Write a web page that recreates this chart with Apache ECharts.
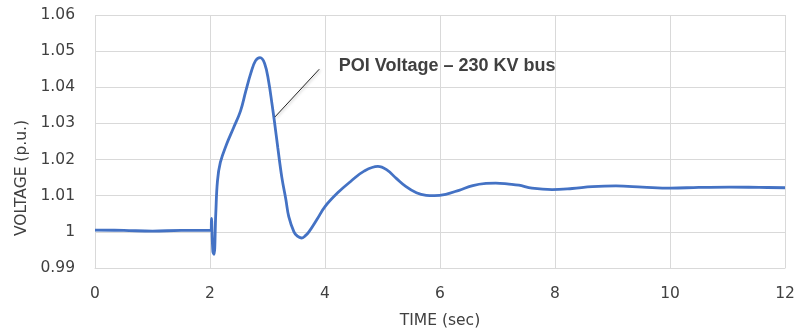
<!DOCTYPE html>
<html>
<head>
<meta charset="utf-8">
<script src="https://cdn.jsdelivr.net/npm/echarts@6/dist/echarts.min.js"></script>
<style>
html,body{margin:0;padding:0;background:#fff;}
#c{width:804px;height:335px;}
</style>
</head>
<body>
<div id="c"></div>
<script>
// ---- Data ----
const timeSec = [0, 0.5, 1.0, 1.5, 2.0, 2.02, 2.025, 2.05, 2.07, 2.1, 2.13, 2.18, 2.29, 2.41, 2.53, 2.62, 2.71, 2.79, 2.87, 2.95, 3.02, 3.08, 3.12, 3.18, 3.25, 3.32, 3.37, 3.46, 3.52, 3.59, 3.65, 3.72, 3.87, 4.0, 4.22, 4.45, 4.68, 4.92, 5.07, 5.24, 5.41, 5.59, 5.76, 5.9, 6.1, 6.33, 6.57, 6.8, 6.97, 7.2, 7.37, 7.6, 7.95, 8.3, 8.65, 9.06, 9.52, 10.01, 10.5, 11.03, 11.55, 12];
const voltagePu = [1.0005, 1.0004, 1.0002, 1.0004, 1.0004, 1.0004, 1.0037, 0.9945, 0.9938, 1.0049, 1.0141, 1.0192, 1.0243, 1.0288, 1.0334, 1.0388, 1.0439, 1.0473, 1.0482, 1.0466, 1.0416, 1.0352, 1.0306, 1.0232, 1.0150, 1.0089, 1.0042, 1.0000, 0.9988, 0.9983, 0.9988, 1.0000, 1.0037, 1.0070, 1.0108, 1.0140, 1.0168, 1.0181, 1.0172, 1.0148, 1.0125, 1.0108, 1.0101, 1.0100, 1.0104, 1.0115, 1.0128, 1.0134, 1.0135, 1.0132, 1.0129, 1.0121, 1.0117, 1.012, 1.0125, 1.0127, 1.0124, 1.0121, 1.0123, 1.0124, 1.0123, 1.0122];
const xTicks = [0, 2, 4, 6, 8, 10, 12];
const yTicks = [0.99, 1.00, 1.01, 1.02, 1.03, 1.04, 1.05, 1.06];
const xAxisTitle = 'TIME (sec)';
const yAxisTitle = 'VOLTAGE (p.u.)';
const annotationText = 'POI Voltage \u2013 230 KV bus';
const annotationAnchor = [4.24, 1.0459];
const leaderStart = [3.9, 1.045];
const leaderEnd = [3.13, 1.0318];

// ---- Chart ----
const txt = '#404040';
const font = 'DejaVu Sans';
const chart = echarts.init(document.getElementById('c'), null, {renderer: 'canvas'});
chart.setOption({
  animation: false,
  backgroundColor: '#ffffff',
  grid: {left: 95, right: 19, top: 15, bottom: 67, containLabel: false},
  xAxis: {
    type: 'value',
    min: xTicks[0], max: xTicks[xTicks.length - 1],
    interval: xTicks[1] - xTicks[0],
    name: xAxisTitle,
    nameLocation: 'middle',
    nameGap: 45,
    nameTextStyle: {color: txt, fontFamily: font, fontSize: 15.5},
    axisLine: {show: true, lineStyle: {color: '#d9d9d9', width: 1}},
    axisTick: {show: false},
    axisLabel: {color: txt, fontFamily: font, fontSize: 15.5, margin: 18},
    splitLine: {show: true, lineStyle: {color: '#d9d9d9', width: 1}}
  },
  yAxis: {
    type: 'value',
    min: yTicks[0], max: yTicks[yTicks.length - 1],
    interval: 0.01,
    name: yAxisTitle,
    nameLocation: 'middle',
    nameGap: 60,
    nameRotate: 90,
    nameTextStyle: {color: txt, fontFamily: font, fontSize: 15.5, padding: [0, 73, 0, 0]},
    axisLine: {show: false},
    axisTick: {show: false},
    axisLabel: {
      color: txt, fontFamily: font, fontSize: 15.5, margin: 20,
      formatter: v => String(parseFloat(v.toFixed(2)))
    },
    splitLine: {show: true, lineStyle: {color: '#d9d9d9', width: 1}}
  },
  series: [{
    type: 'line',
    data: timeSec.map((t, i) => [t, voltagePu[i]]),
    showSymbol: false,
    smooth: 0.4,
    lineStyle: {color: '#4472C4', width: 2.8},
    itemStyle: {color: '#4472C4'},
    markLine: {
      silent: true,
      symbol: ['none', 'none'],
      label: {show: false},
      lineStyle: {color: '#262626', width: 1, type: 'solid', shadowColor: 'rgba(0,0,0,0.35)', shadowBlur: 3, shadowOffsetX: 1, shadowOffsetY: 1},
      data: [[{coord: leaderStart}, {coord: leaderEnd}]]
    },
    markPoint: {
      silent: true,
      symbol: 'circle',
      symbolSize: 0,
      data: [{
        coord: annotationAnchor,
        label: {
          show: true, position: 'right', distance: 0,
          formatter: annotationText,
          color: txt, fontFamily: 'Liberation Sans', fontWeight: 'bold', fontSize: 18
        }
      }]
    }
  }]
});
</script>
</body>
</html>
